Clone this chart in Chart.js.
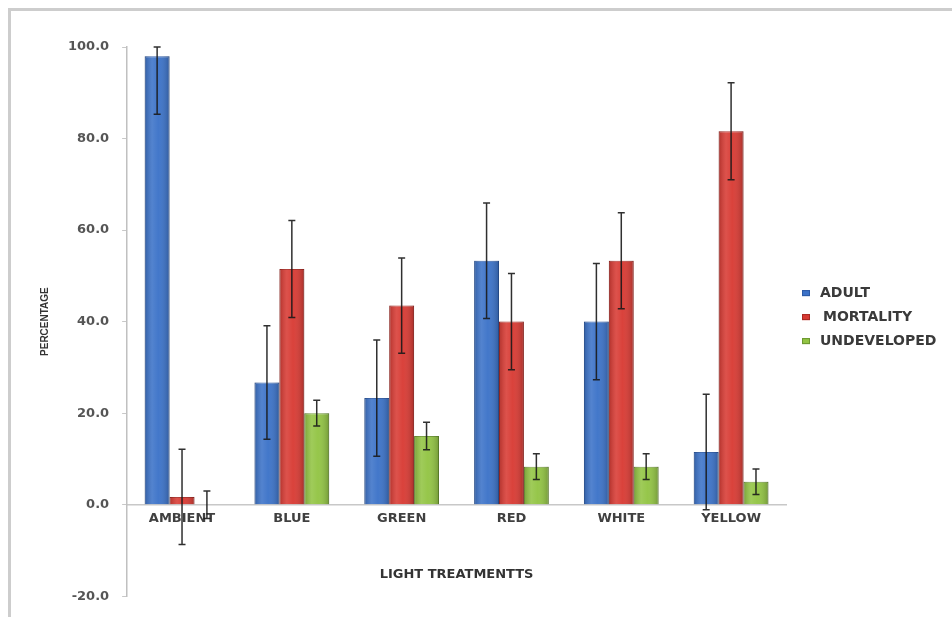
<!DOCTYPE html>
<html>
<head>
<meta charset="utf-8">
<script src="https://cdn.jsdelivr.net/npm/chart.js@4/dist/chart.umd.min.js"></script>
<style>
  html, body { margin: 0; padding: 0; background: #ffffff; overflow: hidden; }
  #wrap { position: relative; width: 952px; height: 617px; overflow: hidden; }
  #frame { position: absolute; left: 8px; top: 8px; width: 960px; height: 620px;
           border-left: 3px solid #cdcdcd; border-top: 3px solid #cdcdcd; box-sizing: border-box; }
  canvas { position: absolute; left: 0; top: 0; }
</style>
</head>
<body>
<div id="wrap">
  <div id="frame"></div>
  <canvas id="c" width="952" height="617"></canvas>
</div>
<script>
// ---- data ----
const categories = ["AMBIENT", "BLUE", "GREEN", "RED", "WHITE", "YELLOW"];
const adult       = [98.0, 26.7, 23.3, 53.3, 40.0, 11.5];
const adultErr    = [12.7, 12.4, 12.7, 12.6, 12.7, 12.6];
const mortality   = [1.7, 51.5, 43.5, 40.0, 53.3, 81.6];
const mortalityErr= [10.4, 10.6, 10.4, 10.5, 10.5, 10.6];
const undeveloped = [0.0, 20.0, 15.0, 8.3, 8.3, 5.0];
const undevelopedErr = [3.0, 2.8, 3.0, 2.8, 2.8, 2.8];
const seriesNames = ["ADULT", "MORTALITY", "UNDEVELOPED"];
const seriesColors = ['#3b72c8', '#d83a33', '#92c443'];
const seriesBorders = ['#2c5aa6', '#a92822', '#6b9630'];
const yMin = -20, yMax = 100, yStep = 20;

const errors = [adultErr, mortalityErr, undevelopedErr];

const errorBarPlugin = {
  id: 'errorBars',
  afterDatasetsDraw(chart) {
    const ctx = chart.ctx;
    const y = chart.scales.y;
    ctx.save();
    ctx.strokeStyle = 'rgba(25,25,25,0.9)';
    ctx.lineWidth = 1.5;
    chart.data.datasets.forEach((ds, di) => {
      const meta = chart.getDatasetMeta(di);
      if (meta.hidden) return;
      meta.data.forEach((el, i) => {
        const v = ds.data[i];
        const e = errors[di][i];
        const hi = Math.min(v + e, yMax);
        const lo = Math.max(v - e, yMin);
        const yt = y.getPixelForValue(hi);
        const yb = y.getPixelForValue(lo);
        const x = el.x;
        const cap = 3.5;
        ctx.beginPath();
        ctx.moveTo(x, yt); ctx.lineTo(x, yb);
        ctx.moveTo(x - cap, yt); ctx.lineTo(x + cap, yt);
        ctx.moveTo(x - cap, yb); ctx.lineTo(x + cap, yb);
        ctx.stroke();
      });
    });
    ctx.restore();
  }
};

// subtle cylinder-like shading over each bar (Excel 2007 style)
const shadePlugin = {
  id: 'shade',
  afterDatasetsDraw(chart) {
    const ctx = chart.ctx;
    ctx.save();
    chart.data.datasets.forEach((ds, di) => {
      const meta = chart.getDatasetMeta(di);
      meta.data.forEach((el) => {
        const left = el.x - el.width / 2, right = el.x + el.width / 2;
        const top = Math.min(el.y, el.base), bottom = Math.max(el.y, el.base);
        if (bottom - top < 0.5) return;
        const g = ctx.createLinearGradient(left, 0, right, 0);
        g.addColorStop(0, 'rgba(0,0,0,0.18)');
        g.addColorStop(0.3, 'rgba(255,255,255,0.12)');
        g.addColorStop(0.55, 'rgba(255,255,255,0.04)');
        g.addColorStop(1, 'rgba(0,0,0,0.22)');
        ctx.fillStyle = g;
        ctx.fillRect(left, top, right - left, bottom - top);
      });
    });
    ctx.restore();
  }
};

// legend at the right of the plot, drawn from the dataset labels/colours
const sideLegendPlugin = {
  id: 'sideLegend',
  afterDraw(chart) {
    const ctx = chart.ctx;
    const a = chart.chartArea;
    const x0 = a.right + 16;
    const yc = (a.top + a.bottom) / 2 - 28.5;
    ctx.save();
    ctx.font = 'bold 14px "DejaVu Sans"';
    ctx.textBaseline = 'middle';
    ctx.textAlign = 'left';
    chart.data.datasets.forEach((ds, i) => {
      const y = yc + i * 24;
      ctx.fillStyle = ds.backgroundColor;
      ctx.fillRect(x0, y - 3, 8, 6);
      ctx.strokeStyle = ds.borderColor;
      ctx.lineWidth = 1;
      ctx.strokeRect(x0 + 0.5, y - 2.5, 7, 5);
      ctx.fillStyle = '#3a3a3a';
      ctx.fillText(ds.label, x0 + 18 + (i === 1 ? 3 : 0), y);
    });
    ctx.restore();
  }
};

new Chart(document.getElementById('c'), {
  type: 'bar',
  data: {
    labels: categories,
    datasets: seriesNames.map((name, i) => ({
      label: name,
      data: [adult, mortality, undeveloped][i],
      backgroundColor: seriesColors[i],
      borderColor: seriesBorders[i],
      borderWidth: 1
    }))
  },
  options: {
    responsive: false,
    animation: false,
    devicePixelRatio: 1,
    layout: { padding: { left: 35, top: 47, bottom: 17, right: 166 } },
    datasets: { bar: { categoryPercentage: 0.68, barPercentage: 1.0 } },
    plugins: {
      tooltip: { enabled: false },
      legend: { display: false }
    },
    scales: {
      x: {
        type: 'category',
        position: { y: 0 },
        grid: { display: false, drawTicks: false },
        border: { display: true, color: '#c8c8c8', width: 1.5 },
        ticks: { padding: 6, color: '#404040', font: { family: 'DejaVu Sans', weight: 'bold', size: 13 } },
        title: {
          display: true, text: 'LIGHT TREATMENTTS', color: '#333333',
          padding: { top: 35, bottom: 0 },
          font: { family: 'DejaVu Sans', weight: 'bold', size: 13 }
        }
      },
      y: {
        min: yMin, max: yMax,
        grid: { drawOnChartArea: false, drawTicks: true, tickLength: 5, color: '#c8c8c8' },
        border: { display: true, color: '#c0c0c0', width: 1.5 },
        ticks: {
          stepSize: yStep, padding: 13, color: '#555555',
          font: { family: 'DejaVu Sans', weight: 'bold', size: 13 },
          callback: (v) => Number(v).toFixed(1)
        },
        title: {
          display: true, text: 'PERCENTAGE', color: '#333333',
          padding: { top: 4, bottom: 4 },
          font: { family: 'Liberation Sans', weight: 'bold', size: 10 }
        }
      }
    }
  },
  plugins: [shadePlugin, errorBarPlugin, sideLegendPlugin]
});
</script>
</body>
</html>
